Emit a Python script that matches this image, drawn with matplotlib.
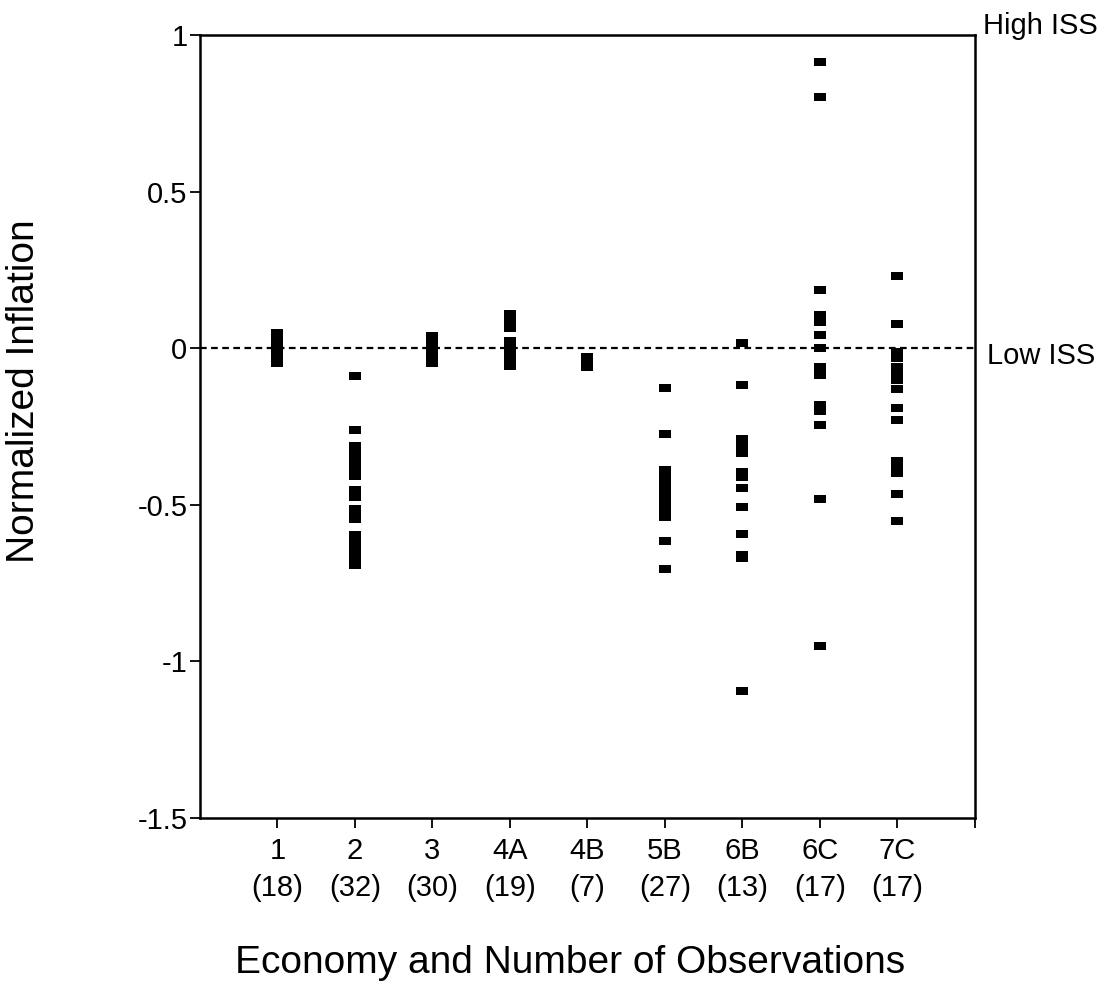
import numpy as np
import matplotlib
matplotlib.use("Agg")
import matplotlib.pyplot as plt

plt.rcParams['font.family'] = ['Liberation Sans', 'DejaVu Sans']

economies = ["1", "2", "3", "4A", "4B", "5B", "6B", "6C", "7C"]
n_obs = [18, 32, 30, 19, 7, 27, 13, 17, 17]

# normalized inflation values, one list per economy
econ_1 = [0.048, 0.042, 0.036, 0.030, 0.025, 0.019, 0.013, 0.008, 0.002,
          -0.004, -0.009, -0.015, -0.020, -0.026, -0.031, -0.036, -0.041, -0.046]
econ_2 = [-0.088, -0.262,
          -0.313, -0.325, -0.337, -0.348, -0.36, -0.372, -0.384, -0.396, -0.409,
          -0.452, -0.464, -0.476,
          -0.513, -0.524, -0.535, -0.546,
          -0.597, -0.607, -0.617, -0.627, -0.637, -0.647, -0.657, -0.667,
          -0.675, -0.683, -0.693, -0.60, -0.65, -0.69]
econ_3 = [0.038, 0.035, 0.032, 0.029, 0.026, 0.023, 0.020, 0.017, 0.014, 0.011,
          0.008, 0.005, 0.002, -0.001, -0.004, -0.007, -0.010, -0.013, -0.016,
          -0.019, -0.022, -0.025, -0.028, -0.031, -0.034, -0.037, -0.040,
          -0.043, -0.046, -0.048]
econ_4a = [0.108, 0.098, 0.088, 0.076, 0.064,
           0.022, 0.015, 0.008, 0.001, -0.006, -0.013, -0.02, -0.027,
           -0.034, -0.041, -0.048, -0.053, -0.058, 0.0]
econ_4b = [-0.029, -0.034, -0.039, -0.044, -0.049, -0.054, -0.059]
econ_5b = [-0.127, -0.273,
           -0.388, -0.395, -0.402, -0.409, -0.416, -0.423, -0.43, -0.437,
           -0.444, -0.451, -0.458, -0.465, -0.472, -0.479, -0.486, -0.493,
           -0.50, -0.507, -0.514, -0.521, -0.528, -0.535, -0.54,
           -0.617, -0.704]
econ_6b = [0.016, -0.119, -0.29, -0.31, -0.334, -0.395, -0.41, -0.446,
           -0.507, -0.592, -0.66, -0.67, -1.096]
econ_6c = [0.915, 0.803, 0.187, 0.105, 0.095, 0.085, 0.042, 0.0, -0.06,
           -0.07, -0.085, -0.18, -0.19, -0.2, -0.246, -0.48, -0.952]
econ_7c = [0.23, 0.076, -0.012, -0.03, -0.06, -0.075, -0.09, -0.1, -0.129,
           -0.19, -0.23, -0.36, -0.37, -0.38, -0.4, -0.464, -0.552]

all_values = [econ_1, econ_2, econ_3, econ_4a, econ_4b,
              econ_5b, econ_6b, econ_6c, econ_7c]

fig = plt.figure(figsize=(11.19, 9.85), dpi=100)
ax = fig.add_axes([0.1787, 0.1695, 0.6926, 0.795])

# flat rectangle marker like the printed one
rect = [(-1, -0.6), (1, -0.6), (1, 0.6), (-1, 0.6), (-1, -0.6)]

for i, vals in enumerate(all_values):
    xs = np.full(len(vals), i + 1)
    ax.plot(xs, vals, ls='none', marker=rect, ms=8.5, color='black', mew=0)

ax.axhline(0, color='black', lw=1.6, ls=(0, (3, 2)), zorder=1)

ax.set_xlim(0, 10)
ax.set_ylim(-1.5, 1)
ax.set_yticks([1, 0.5, 0, -0.5, -1, -1.5])
ax.set_yticklabels(["1", "0.5", "0", "-0.5", "-1", "-1.5"], fontsize=21)
ax.set_xticks(range(1, 11))
ax.set_xticklabels([f"{e}\n({n})" for e, n in zip(economies, n_obs)] + [""],
                   fontsize=21, linespacing=1.4)
ax.tick_params(axis='both', direction='out', length=7, width=1.3, pad=2,
               colors='black')
ax.tick_params(axis='x', pad=7)

for s in ax.spines.values():
    s.set_linewidth(1.8)
    s.set_color('black')

ax.text(10.1, 1.03, "High ISS", fontsize=21, va='center', ha='left',
        clip_on=False)
ax.text(10.15, -0.025, "Low ISS", fontsize=21, va='center', ha='left',
        clip_on=False)

ax.set_ylabel("Normalized Inflation", fontsize=28)
ax.yaxis.set_label_coords(-0.204, 0.545)
ax.set_xlabel("Economy and Number of Observations", fontsize=28)
ax.xaxis.set_label_coords(0.477, -0.162)

fig.savefig("out.png", dpi=100, facecolor='white')
